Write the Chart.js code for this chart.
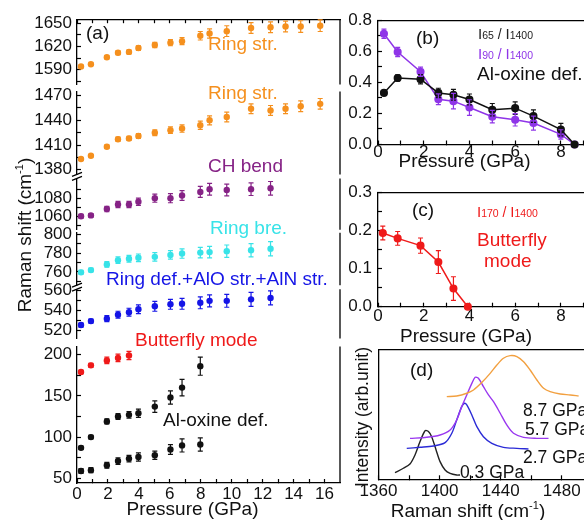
<!DOCTYPE html>
<html>
<head>
<meta charset="utf-8">
<script src="https://cdn.jsdelivr.net/npm/chart.js@4.4.1/dist/chart.umd.min.js"></script>
<style>
html, body { margin: 0; padding: 0; width: 584px; height: 520px; overflow: hidden; background: #fff; }
canvas { position: absolute; }
</style>
</head>
<body>
<canvas id="chartA" width="345" height="520" style="left:0;top:0"></canvas>
<canvas id="chartB" width="275" height="172" style="left:330px;top:0"></canvas>
<canvas id="chartC" width="275" height="178" style="left:330px;top:172px"></canvas>
<canvas id="chartD" width="275" height="180" style="left:330px;top:340px"></canvas>
<script>
const FONT = '"Liberation Sans", Arial, Helvetica, sans-serif';
Chart.defaults.font.family = FONT;
Chart.defaults.color = '#111';

// ---- panel (a): Raman shift vs pressure ----
const pressure = [0.26, 0.9, 1.93, 2.65, 3.36, 3.97, 5.03, 6.04, 6.79, 7.97, 8.57, 9.68, 11.25, 12.51, 13.48, 14.46, 15.72];
const ringStrHigh    = [1594, 1597, 1606, 1612, 1613, 1618, 1622, 1625, 1627, 1634, 1637, 1640, 1644, 1645, 1646, 1646, 1647];
const ringStrHighErr = [1.5, 1.5, 2, 2.5, 2.5, 3, 3.5, 4, 4.5, 5.5, 6, 7, 7, 7, 7, 7.5, 7.5];
const ringStrLow     = [1393, 1397, 1408, 1417, 1418, 1421, 1425, 1428, 1430, 1434, 1440, 1444, 1454, 1452, 1454, 1457, 1460];
const ringStrLowErr  = [1.5, 1.5, 2, 2.5, 2.5, 3, 3.5, 4, 4.5, 5, 5.5, 6, 6, 6, 6, 6.5, 6.5];
const chBend         = [1060, 1061, 1068, 1073, 1073, 1076, 1080, 1080, 1083, 1087, 1090, 1089, 1090, 1091];
const chBendErr      = [2, 2, 3, 3.5, 3.5, 4, 4.5, 5, 5.5, 6, 6.5, 6.5, 7, 7.5];
const ringBre        = [759.6, 762, 768, 772.5, 774, 775, 776, 778, 779.5, 780.5, 781, 782, 783, 784.5];
const ringBreErr     = [2, 2, 3, 3.5, 3.5, 4, 4.5, 4.5, 5, 5.5, 6, 6.5, 7, 7.5];
const ringDef        = [525, 529, 531.5, 535.5, 538, 541, 544, 546, 546.5, 547.5, 549.5, 549.5, 551, 552.5];
const ringDefErr     = [2, 2, 3, 3.5, 4, 4.5, 5, 5, 5.5, 6, 6, 6.5, 7, 7];
const butterfly      = [179, 187, 193, 196, 199];
const butterflyErr   = [2, 2.5, 4, 4.5, 5];
const alOxineHigh    = [87, 100, 119, 125, 127, 129, 137, 148, 160, 186];
const alOxineHighErr = [2, 2, 3, 3.5, 4, 5, 7, 8, 10, 11];
const alOxineLow     = [59, 60, 66, 71, 74, 76, 78, 85, 90, 91];
const alOxineLowErr  = [3, 3, 3.5, 4, 4, 5, 5, 6, 8, 8];

const pressureTicks = [0, 2, 4, 6, 8, 10, 12, 14, 16];
const ticksRingHigh = [1590, 1620, 1650];
const ticksRingLow  = [1380, 1410, 1440, 1470];
const ticksChBend   = [1060, 1080];
const ticksRingBre  = [760, 780, 800];
const ticksRingDef  = [520, 540, 560];
const ticksLow      = [50, 100, 150, 200];

// ---- panel (b), (c): intensity ratios ----
const pressureB = [0.26, 0.86, 1.86, 2.64, 3.3, 4.0, 5.0, 6.0, 6.8, 8.0, 8.6];
const ratio65    = [0.332, 0.428, 0.42, 0.332, 0.32, 0.29, 0.224, 0.234, 0.183, 0.096, 0];
const ratio65Err = [0.015, 0.02, 0.03, 0.03, 0.035, 0.035, 0.04, 0.04, 0.04, 0.04, 0];
const ratio90    = [0.713, 0.595, 0.468, 0.291, 0.279, 0.238, 0.179, 0.159, 0.138, 0.065, 0];
const ratio90Err = [0.03, 0.03, 0.03, 0.035, 0.05, 0.05, 0.04, 0.04, 0.045, 0.03, 0];
const pressureC = [0.21, 0.86, 1.86, 2.64, 3.3, 3.93];
const ratio170    = [0.193, 0.179, 0.16, 0.117, 0.0475, 0];
const ratio170Err = [0.018, 0.018, 0.02, 0.03, 0.031, 0];
const ticksRatioB = [0, 0.2, 0.4, 0.6, 0.8];
const ticksRatioC = [0, 0.1, 0.2, 0.3];
const ticksPressureBC = [0, 2, 4, 6, 8];

// ---- panel (d): spectra ----
const spec03Shift = [1370.8, 1376.3, 1380.6, 1383.9, 1387.2, 1390.5, 1392.7, 1394.8, 1397.7, 1400.3, 1403.6, 1406.9, 1411.2, 1413.4];
const spec03Int   = [0.051, 0.085, 0.118, 0.187, 0.29, 0.374, 0.367, 0.328, 0.226, 0.136, 0.072, 0.046, 0.033, 0.033];
const spec27Shift = [1378.5, 1387.2, 1395.9, 1403.6, 1408.0, 1411.2, 1414.5, 1416.3, 1417.8, 1421.1, 1424.4, 1428.7, 1434.2, 1441.8, 1450.6, 1458.2];
const spec27Int   = [0.238, 0.246, 0.256, 0.282, 0.354, 0.456, 0.559, 0.585, 0.572, 0.495, 0.405, 0.328, 0.277, 0.246, 0.238, 0.233];
const spec57Shift = [1380.6, 1391.6, 1400.3, 1406.9, 1411.2, 1414.5, 1417.8, 1421.1, 1423.3, 1425.4, 1428.7, 1432.0, 1435.3, 1439.7, 1444.0, 1448.4, 1455.0, 1463.7, 1471.3];
const spec57Int   = [0.315, 0.323, 0.341, 0.379, 0.456, 0.559, 0.649, 0.738, 0.785, 0.777, 0.713, 0.649, 0.597, 0.508, 0.418, 0.354, 0.323, 0.315, 0.315];
const spec87Shift = [1404.7, 1411.2, 1417.8, 1422.2, 1427.6, 1433.1, 1437.5, 1441.8, 1446.2, 1450.6, 1455.0, 1459.3, 1463.7, 1468.1, 1472.4, 1479.0, 1485.6, 1491.0];
const spec87Int   = [0.636, 0.641, 0.662, 0.687, 0.744, 0.815, 0.879, 0.931, 0.951, 0.944, 0.905, 0.841, 0.764, 0.700, 0.674, 0.656, 0.649, 0.641];
const ticksShiftD = [1360, 1400, 1440, 1480];

const ORANGE = '#f5901e', PURPLE = '#862386', CYAN = '#38e3e8', BLUE = '#1515e6',
      RED = '#ef1a1a', BLACK = '#111', VIOLET = '#8f35e8';

function pts(xs, ys) { return ys.map((y, i) => ({x: xs[i], y: y})); }

// ticks at the labels plus a minor tick half way between them
function withMinors(labels, min, max) {
  const half = (labels[1] - labels[0]) / 2;
  const out = [];
  for (let k = -1; k <= (labels.length - 1) * 2 + 1; k++) {
    const v = +(labels[0] + k * half).toFixed(6);
    if (v >= min - 1e-9 && v <= max + 1e-9) out.push(v);
  }
  return out;
}
function isLabel(labels, v) { return labels.some(l => Math.abs(l - v) < 1e-6); }

function drawRich(ctx, it) {
  ctx.save();
  ctx.translate(it.x, it.y);
  if (it.rotate) ctx.rotate(it.rotate);
  ctx.fillStyle = it.color || '#111';
  ctx.textBaseline = 'alphabetic';
  const segs = it.segs || [{t: it.text}];
  let total = 0;
  segs.forEach(s => {
    ctx.font = (s.size || it.size) + 'px ' + FONT;
    s.w = ctx.measureText(s.t).width;
    total += s.w;
  });
  let x = it.align === 'center' ? -total / 2 : 0;
  segs.forEach(s => {
    ctx.font = (s.size || it.size) + 'px ' + FONT;
    ctx.fillText(s.t, x, s.dy || 0);
    x += s.w;
  });
  ctx.restore();
}
function textPlugin(items) {
  return { id: 'panelText', afterDraw(chart) { items.forEach(it => drawRich(chart.ctx, it)); } };
}

const errorBarPlugin = {
  id: 'errorBars',
  afterDatasetsDraw(chart) {
    const ctx = chart.ctx;
    chart.data.datasets.forEach((ds, i) => {
      if (!ds.errorBars) return;
      const meta = chart.getDatasetMeta(i);
      const xs = meta.xScale, ys = meta.yScale;
      ctx.save();
      ctx.strokeStyle = ds.borderColor;
      ctx.lineWidth = 1.2;
      ds.data.forEach((p, j) => {
        const e = ds.errorBars[j];
        if (!e) return;
        const px = xs.getPixelForValue(p.x);
        const top = ys.getPixelForValue(p.y + e), bot = ys.getPixelForValue(p.y - e);
        ctx.beginPath();
        ctx.moveTo(px, top); ctx.lineTo(px, bot);
        ctx.moveTo(px - 2.5, top); ctx.lineTo(px + 2.5, top);
        ctx.moveTo(px - 2.5, bot); ctx.lineTo(px + 2.5, bot);
        ctx.stroke();
      });
      ctx.restore();
    });
  }
};

function axisX(labels, min, max, height, pad, fmt) {
  return {
    type: 'linear', position: 'bottom', min: min, max: max,
    afterBuildTicks: s => { s.ticks = withMinors(labels, min, max).map(v => ({value: v})); },
    afterFit: s => { s.height = height; },
    ticks: { autoSkip: false, maxRotation: 0, padding: pad, font: {size: 17}, color: '#111',
             callback: v => isLabel(labels, v) ? fmt(v) : '' },
    grid: { drawOnChartArea: false, tickLength: -4, tickColor: '#000', tickWidth: 1.2 },
    border: { color: '#000', width: 1.3 }
  };
}
function axisTop(labels, min, max, showTicks) {
  return {
    type: 'linear', position: 'top', min: min, max: max,
    afterBuildTicks: s => { s.ticks = withMinors(labels, min, max).map(v => ({value: v})); },
    afterFit: s => { s.height = 0; },
    ticks: { display: false },
    grid: { display: showTicks, drawOnChartArea: false, tickLength: -4, tickColor: '#000', tickWidth: 1.2 },
    border: { color: '#000', width: 1.3 }
  };
}
function axisY(labels, min, max, width, pad, fmt, extra) {
  return Object.assign({
    type: 'linear', position: 'left', min: min, max: max,
    afterBuildTicks: s => { s.ticks = withMinors(labels, min, max).map(v => ({value: v})); },
    afterFit: s => { s.width = width; },
    ticks: { autoSkip: false, padding: pad, font: {size: 17}, color: '#111',
             callback: v => isLabel(labels, v) ? fmt(v) : '' },
    grid: { drawOnChartArea: false, tickLength: -4, tickColor: '#000', tickWidth: 1.2 },
    border: { color: '#000', width: 1.3 }
  }, extra || {});
}

const baseOptions = {
  responsive: false, animation: false, devicePixelRatio: 1, events: [],
  plugins: { legend: { display: false }, tooltip: { enabled: false } }
};

// ---------- panel (a) ----------
const segments = [
  { id: 'yRingHigh', labels: ticksRingHigh, min: 1570.7, max: 1655.5, h: 66 },
  { id: 'gap1', h: 7 },
  { id: 'yRingLow', labels: ticksRingLow, min: 1374.3, max: 1475.1, h: 84 },
  { id: 'gap2', h: 4 },
  { id: 'yChBend', labels: ticksChBend, min: 1045, max: 1101.9, h: 52 },
  { id: 'gap3', h: 3 },
  { id: 'yRingBre', labels: ticksRingBre, min: 746, max: 801.4, h: 53 },
  { id: 'gap4', h: 4 },
  { id: 'yRingDef', labels: ticksRingDef, min: 511.3, max: 561.3, h: 50 },
  { id: 'gap5', h: 8 },
  { id: 'yLow', labels: ticksLow, min: 44.4, max: 209.8, h: 138 }
];

const scalesA = {
  x: axisX(pressureTicks, 0, 17, 37, 5, v => String(v)),
  xTop: axisTop(pressureTicks, 0, 17, true)
};
scalesA.x.afterBuildTicks = s => { s.ticks = withMinors(pressureTicks, 0, 16.5).map(v => ({value: v})); };
scalesA.xTop.afterBuildTicks = s => { s.ticks = withMinors(pressureTicks, 0, 16.5).map(v => ({value: v})); };
segments.forEach((seg, i) => {
  const common = { stack: 'raman', stackWeight: seg.h, weight: 20 - i };
  if (seg.labels) {
    scalesA[seg.id] = axisY(seg.labels, seg.min, seg.max, 77, 9, v => String(v), common);
  } else {
    scalesA[seg.id] = Object.assign({
      type: 'linear', position: 'left', min: 0, max: 1,
      afterFit: s => { s.width = 77; },
      ticks: { display: false }, grid: { display: false }, border: { display: false }
    }, common);
  }
});

const frameA = {
  id: 'frameA',
  afterDraw(chart) {
    const ctx = chart.ctx, area = chart.chartArea;
    ctx.save();
    ctx.strokeStyle = '#000';
    ctx.lineWidth = 1.3;
    ctx.beginPath();
    segments.forEach(seg => {
      if (!seg.labels) return;
      const s = chart.scales[seg.id];
      ctx.moveTo(area.right, s.top); ctx.lineTo(area.right, s.bottom);
    });
    ['gap2', 'gap4'].forEach(id => {
      const s = chart.scales[id];
      [s.top, s.bottom].forEach(y => { ctx.moveTo(area.left - 5, y + 2); ctx.lineTo(area.left + 5, y - 2); });
    });
    ctx.stroke();
    ctx.restore();
  }
};

function scatterSet(xs, ys, errs, color, yId) {
  return { data: pts(xs, ys), errorBars: errs, xAxisID: 'x', yAxisID: yId,
           backgroundColor: color, borderColor: color, pointRadius: 3.2, pointHoverRadius: 3.2, borderWidth: 0 };
}

new Chart(document.getElementById('chartA'), {
  type: 'scatter',
  data: { datasets: [
    scatterSet(pressure, ringStrHigh, ringStrHighErr, ORANGE, 'yRingHigh'),
    scatterSet(pressure, ringStrLow, ringStrLowErr, ORANGE, 'yRingLow'),
    scatterSet(pressure, chBend, chBendErr, PURPLE, 'yChBend'),
    scatterSet(pressure, ringBre, ringBreErr, CYAN, 'yRingBre'),
    scatterSet(pressure, ringDef, ringDefErr, BLUE, 'yRingDef'),
    scatterSet(pressure, butterfly, butterflyErr, RED, 'yLow'),
    scatterSet(pressure, alOxineHigh, alOxineHighErr, BLACK, 'yLow'),
    scatterSet(pressure, alOxineLow, alOxineLowErr, BLACK, 'yLow')
  ] },
  options: Object.assign({}, baseOptions, {
    layout: { padding: { top: 14, right: 5, left: 0, bottom: 0 } },
    scales: scalesA
  }),
  plugins: [errorBarPlugin, frameA, textPlugin([
    { text: '(a)', x: 86, y: 39, size: 19 },
    { text: 'Ring str.', x: 208, y: 50, size: 19, color: ORANGE },
    { text: 'Ring str.', x: 208, y: 99, size: 19, color: ORANGE },
    { text: 'CH bend', x: 208, y: 172, size: 19, color: PURPLE },
    { text: 'Ring bre.', x: 210, y: 234, size: 19, color: CYAN },
    { text: 'Ring def.+AlO str.+AlN str.', x: 106, y: 285, size: 19, color: BLUE },
    { text: 'Butterfly mode', x: 135, y: 346, size: 19, color: RED },
    { text: 'Al-oxine def.', x: 163, y: 426, size: 19 },
    { text: 'Pressure (GPa)', x: 192.5, y: 515, size: 19, align: 'center' },
    { segs: [{t: 'Raman shift (cm'}, {t: '-1', size: 11, dy: -8}, {t: ')'}], x: 31, y: 235, size: 19, align: 'center', rotate: -Math.PI / 2 }
  ])]
});

// ---------- panel (b) ----------
function lineSet(xs, ys, errs, color) {
  return { data: pts(xs, ys), errorBars: errs, showLine: true, borderColor: color, backgroundColor: color,
           borderWidth: 1.5, pointRadius: 3.3, pointHoverRadius: 3.3, tension: 0, clip: 8 };
}
function ratioLabel(num, color, x, y) {
  return { segs: [{t: 'I', size: 15}, {t: num, size: 10.5}, {t: ' / ', size: 14}, {t: 'I', size: 15}, {t: '1400', size: 10.5}],
           x: x, y: y, color: color };
}

new Chart(document.getElementById('chartB'), {
  type: 'scatter',
  data: { datasets: [
    lineSet(pressureB, ratio65, ratio65Err, BLACK),
    lineSet(pressureB, ratio90, ratio90Err, VIOLET)
  ] },
  options: Object.assign({}, baseOptions, {
    layout: { padding: { top: 14, right: 0, left: 0, bottom: 0 } },
    scales: {
      x: axisX(ticksPressureBC, 0, 9.72, 27.5, 1.3, v => String(v)),
      xTop: axisTop(ticksPressureBC, 0, 9.72, false),
      y: axisY(ticksRatioB, 0, 0.8, 48, 10, v => v.toFixed(1))
    }
  }),
  plugins: [errorBarPlugin, textPlugin([
    { text: '(b)', x: 86, y: 44, size: 19 },
    ratioLabel('65', '#222', 148, 39.3),
    ratioLabel('90', VIOLET, 148, 59.3),
    { text: 'Al-oxine def.', x: 147, y: 80, size: 19 },
    { text: 'Pressure (GPa)', x: 134.5, y: 167, size: 19, align: 'center' }
  ])]
});

// ---------- panel (c) ----------
new Chart(document.getElementById('chartC'), {
  type: 'scatter',
  data: { datasets: [ lineSet(pressureC, ratio170, ratio170Err, RED) ] },
  options: Object.assign({}, baseOptions, {
    layout: { padding: { top: 14.7, right: 0, left: 0, bottom: 0 } },
    scales: {
      x: axisX(ticksPressureBC, 0, 9.72, 43.3, 3.6, v => String(v)),
      xTop: axisTop(ticksPressureBC, 0, 9.72, false),
      y: axisY(ticksRatioC, 0, 0.3, 48, 10, v => v.toFixed(1))
    }
  }),
  plugins: [errorBarPlugin, textPlugin([
    { text: '(c)', x: 82, y: 44, size: 19 },
    ratioLabel('170', RED, 147, 44.7),
    { text: 'Butterfly', x: 147, y: 74, size: 19, color: RED },
    { text: 'mode', x: 154, y: 95, size: 19, color: RED },
    { text: 'Pressure (GPa)', x: 136, y: 170, size: 19, align: 'center' }
  ])]
});

// ---------- panel (d) ----------
function specSet(xs, ys, color) {
  return { data: pts(xs, ys), showLine: true, borderColor: color, backgroundColor: color,
           borderWidth: 1.4, pointRadius: 0, pointHoverRadius: 0, tension: 0.3 };
}
new Chart(document.getElementById('chartD'), {
  type: 'scatter',
  data: { datasets: [
    specSet(spec87Shift, spec87Int, '#f2a040'),
    specSet(spec57Shift, spec57Int, '#9a38f0'),
    specSet(spec27Shift, spec27Int, '#2b2bd6'),
    specSet(spec03Shift, spec03Int, '#222')
  ] },
  options: Object.assign({}, baseOptions, {
    layout: { padding: { top: 9.3, right: 0, left: 0, bottom: 0 } },
    scales: {
      x: axisX(ticksShiftD, 1360, 1508.3, 40.7, 5.5, v => String(v)),
      xTop: axisTop(ticksShiftD, 1360, 1508.3, false),
      y: { type: 'linear', position: 'left', min: 0, max: 1,
           afterFit: s => { s.width = 48.5; },
           ticks: { display: false }, grid: { display: false },
           border: { color: '#000', width: 1.3 } }
    }
  }),
  plugins: [textPlugin([
    { text: '(d)', x: 80, y: 36, size: 19 },
    { text: '8.7 GPa', x: 193, y: 76, size: 17.5 },
    { text: '5.7 GPa', x: 195, y: 95, size: 17.5 },
    { text: '2.7 GPa', x: 193, y: 123, size: 17.5 },
    { text: '0.3 GPa', x: 130, y: 138, size: 17.5 },
    { segs: [{t: 'Raman shift (cm'}, {t: '-1', size: 11, dy: -8}, {t: ')'}], x: 138, y: 177, size: 19, align: 'center' },
    { text: 'Intensity (arb.unit)', x: 38, y: 77, size: 17.5, align: 'center', rotate: -Math.PI / 2 }
  ])]
});
</script>
</body>
</html>
